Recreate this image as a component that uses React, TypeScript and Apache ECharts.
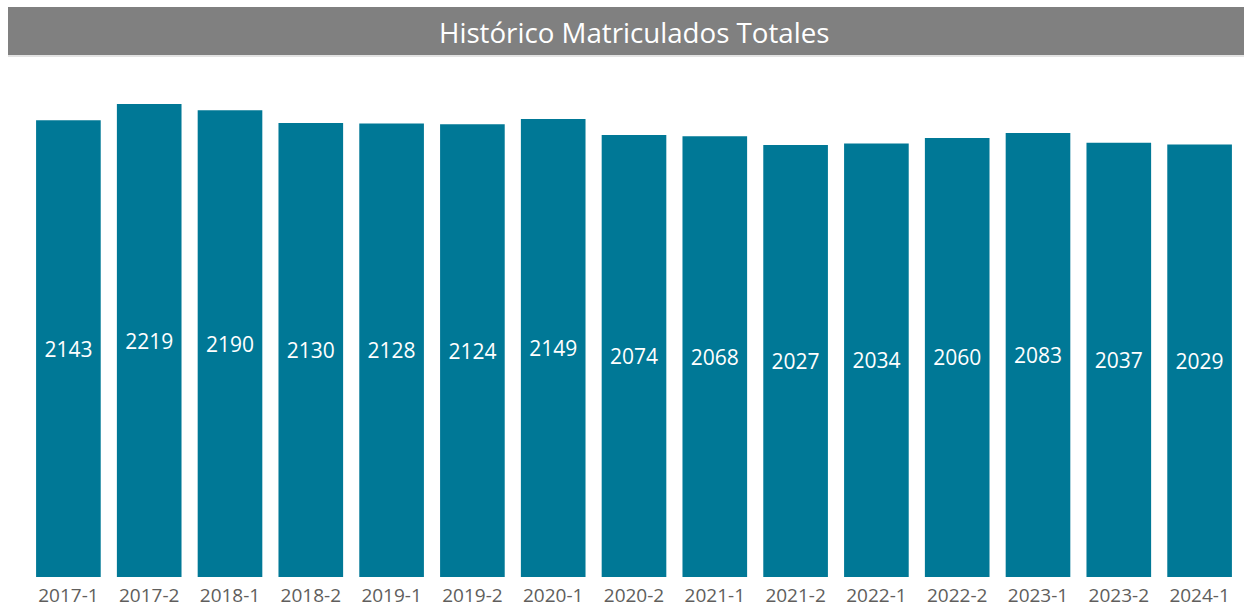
import React, { useEffect, useRef } from "react";
import * as echarts from "echarts";

const categories = ["2017-1", "2017-2", "2018-1", "2018-2", "2019-1", "2019-2", "2020-1", "2020-2", "2021-1", "2021-2", "2022-1", "2022-2", "2023-1", "2023-2", "2024-1"];
const values = [2143, 2219, 2190, 2130, 2128, 2124, 2149, 2074, 2068, 2027, 2034, 2060, 2083, 2037, 2029];
const titleText = "Histórico Matriculados Totales";

export default function App() {
  const ref = useRef<HTMLDivElement>(null);
  useEffect(() => {
    if (!ref.current) return;
    const chart = echarts.init(ref.current, null, { renderer: "svg" });
    chart.setOption({
      animation: false,
      backgroundColor: "#ffffff",
      title: {
        text: titleText,
        left: 434,
        top: 13,
        textStyle: { color: "#ffffff", fontSize: 27.7, fontWeight: "normal", fontFamily: "Open Sans" },
      },
      graphic: [
        { type: "rect", z: -1, shape: { x: 8, y: 7, width: 1236, height: 48 }, style: { fill: "#808080" } },
        { type: "rect", z: -1, shape: { x: 8, y: 55, width: 1236, height: 2 }, style: { fill: "#e3e3e3" } },
      ],
      grid: { left: 28, right: 12, top: 104, bottom: 29, containLabel: false },
      xAxis: {
        type: "category",
        data: categories,
        axisLine: { show: false },
        axisTick: { show: false },
        axisLabel: { color: "#605e5c", fontSize: 19, fontFamily: "Open Sans", margin: 8 },
      },
      yAxis: {
        type: "value",
        min: 0,
        max: "dataMax",
        show: false,
        splitLine: { show: false },
      },
      series: [
        {
          type: "bar",
          data: values,
          barCategoryGap: "20%",
          itemStyle: { color: "#007896" },
          label: {
            show: true,
            position: "inside",
            color: "#ffffff",
            fontSize: 21,
            fontFamily: "Open Sans",
          },
        },
      ],
    });
    return () => chart.dispose();
  }, []);
  return <div ref={ref} style={{ position: "fixed", left: 0, top: 0, width: 1252, height: 606 }} />;
}
